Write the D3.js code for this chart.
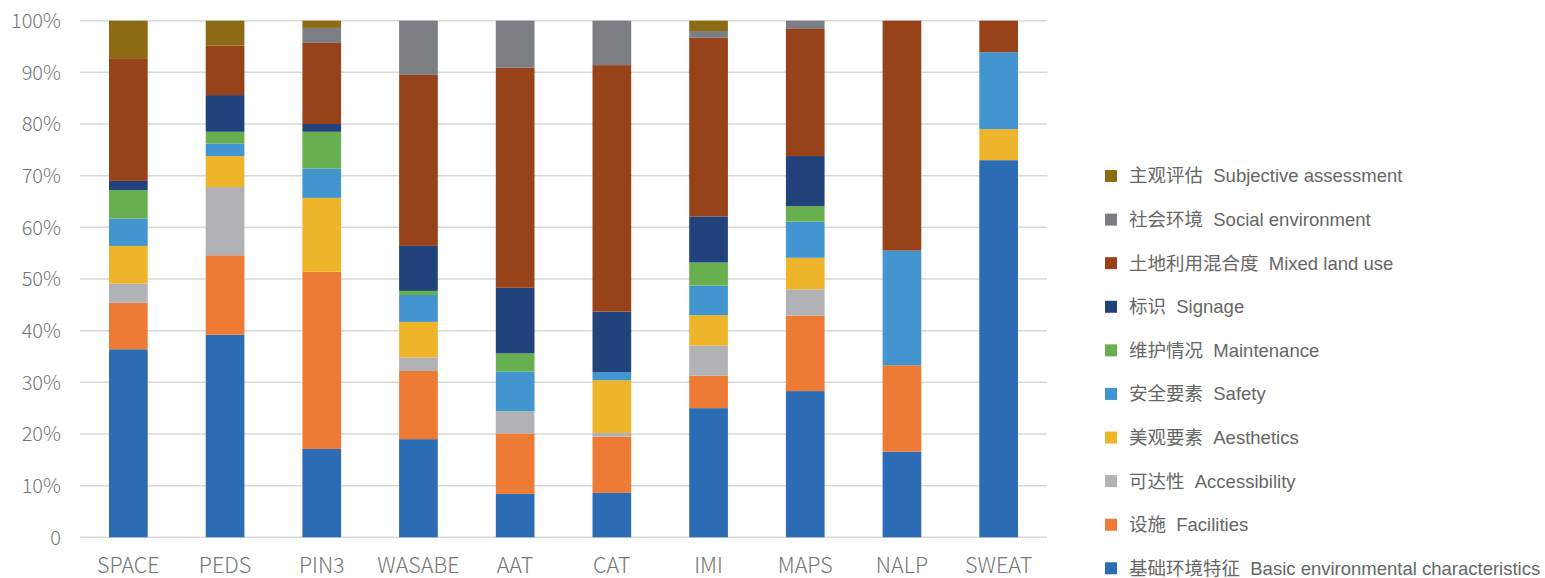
<!DOCTYPE html>
<html>
<head>
<meta charset="utf-8">
<script src="https://cdn.jsdelivr.net/npm/d3@7"></script>
<style>
  body { margin: 0; background: #fff; }
  svg { display: block; }
</style>
</head>
<body>
<svg id="chart" width="1545" height="578"></svg>
<script>
// tools / instruments on the x axis
const tools = ['SPACE', 'PEDS', 'PIN3', 'WASABE', 'AAT', 'CAT', 'IMI', 'MAPS', 'NALP', 'SWEAT']

// series, bottom to top
const seriesCn = ['基础环境特征', '设施', '可达性', '美观要素', '安全要素', '维护情况', '标识', '土地利用混合度', '社会环境', '主观评估']
const seriesEn = ['Basic environmental characteristics', 'Facilities', 'Accessibility', 'Aesthetics', 'Safety', 'Maintenance', 'Signage', 'Mixed land use', 'Social environment', 'Subjective assessment']

// percentages, one value per tool
const basic      = [36.4, 39.2, 17.1, 19.0,  8.4,  8.6, 25.0, 28.3, 16.6, 73.0]
const facilities = [ 9.0, 15.4, 34.3, 13.2, 11.7, 10.9,  6.3, 14.6, 16.7,  0]
const access     = [ 3.7, 13.2,  0,    2.6,  4.3,  0.7,  5.8,  5.1,  0,    0]
const aesthetics = [ 7.3,  6.0, 14.3,  6.9,  0,   10.2,  5.9,  6.1,  0,    6.0]
const safety     = [ 5.3,  2.4,  5.7,  5.2,  7.7,  1.6,  5.7,  7.0, 22.2, 14.9]
const maintain   = [ 5.5,  2.3,  7.1,  0.8,  3.5,  0,    4.5,  3.0,  0,    0]
const signage    = [ 1.8,  7.1,  1.5,  8.7, 12.7, 11.7,  8.9,  9.7,  0,    0]
const mixedUse   = [23.6,  9.6, 15.7, 33.1, 42.6, 47.7, 34.6, 24.6, 44.5,  6.1]
const social     = [ 0,    0,    2.9, 10.5,  9.1,  8.6,  1.3,  1.6,  0,    0]
const subjective = [ 7.4,  4.8,  1.4,  0,    0,    0,    2.0,  0,    0,    0]

const seriesValues = [basic, facilities, access, aesthetics, safety, maintain, signage, mixedUse, social, subjective]

const colors = ['#2b6cb5', '#ee7b35', '#b0b2b5', '#eeb42a', '#4395d0', '#68b04f', '#21427a', '#974218', '#7b7f83', '#8d6a14']

const yTicks = [0, 0.1, 0.2, 0.3, 0.4, 0.5, 0.6, 0.7, 0.8, 0.9, 1]

// build rows for d3.stack
const keys = seriesEn
const rows = tools.map((t, i) => {
  const r = { tool: t }
  keys.forEach((k, j) => { r[k] = seriesValues[j][i] })
  return r
})

const stacked = d3.stack()
  .keys(keys)
  .offset(d3.stackOffsetExpand)(rows)

const svg = d3.select('#chart')

const margin = { left: 80, right: 498, top: 20.7, bottom: 40.7 }
const W = 1545, H = 578

const x = d3.scaleBand()
  .domain(tools)
  .range([margin.left, W - margin.right])
  .paddingInner(0.6)
  .paddingOuter(0.3)

const y = d3.scaleLinear()
  .domain([0, 1])
  .range([H - margin.bottom, margin.top])

const axisFont = '"Noto Sans CJK SC", "Noto Sans", sans-serif'

// gridlines
svg.append('g')
  .selectAll('line')
  .data(yTicks)
  .join('line')
  .attr('x1', margin.left)
  .attr('x2', W - margin.right)
  .attr('y1', d => y(d))
  .attr('y2', d => y(d))
  .attr('stroke', '#d9d9d9')
  .attr('stroke-width', 1.5)

// y labels
svg.append('g')
  .selectAll('text')
  .data(yTicks)
  .join('text')
  .attr('x', 61)
  .attr('y', d => y(d))
  .attr('dy', '0.36em')
  .attr('text-anchor', 'end')
  .attr('font-family', axisFont)
  .attr('font-weight', 300)
  .attr('font-size', 20)
  .attr('fill', '#767676')
  .text(d => d === 0 ? '0' : d3.format('.0%')(d))

// bars
svg.append('g')
  .selectAll('g')
  .data(stacked)
  .join('g')
  .attr('fill', (d, i) => colors[i])
  .selectAll('rect')
  .data(d => d)
  .join('rect')
  .attr('x', d => x(d.data.tool))
  .attr('width', x.bandwidth())
  .attr('y', d => y(d[1]))
  .attr('height', d => Math.max(0, y(d[0]) - y(d[1])))

// x labels
svg.append('g')
  .selectAll('text')
  .data(tools)
  .join('text')
  .attr('x', d => x(d) + x.bandwidth() / 2)
  .attr('y', 573)
  .attr('text-anchor', 'middle')
  .attr('font-family', axisFont)
  .attr('font-weight', 300)
  .attr('font-size', 21.5)
  .attr('fill', '#767676')
  .text(d => d)

// legend, top item is the last series
const legendY = d3.scalePoint()
  .domain(d3.range(seriesEn.length).reverse())
  .range([176, 568.3])

const legend = svg.append('g')
  .selectAll('g')
  .data(d3.range(seriesEn.length))
  .join('g')
  .attr('transform', i => `translate(1105,${legendY(i)})`)

legend.append('rect')
  .attr('x', 0)
  .attr('y', -6)
  .attr('width', 12)
  .attr('height', 12)
  .attr('fill', i => colors[i])

legend.append('text')
  .attr('x', 24)
  .attr('dy', '0.35em')
  .attr('font-family', '"Liberation Sans", Arial, "Noto Sans CJK SC", sans-serif')
  .attr('font-size', 18.5)
  .attr('fill', '#666666')
  .text(i => seriesCn[i] + '\u00a0\u00a0' + seriesEn[i])
</script>
</body>
</html>
